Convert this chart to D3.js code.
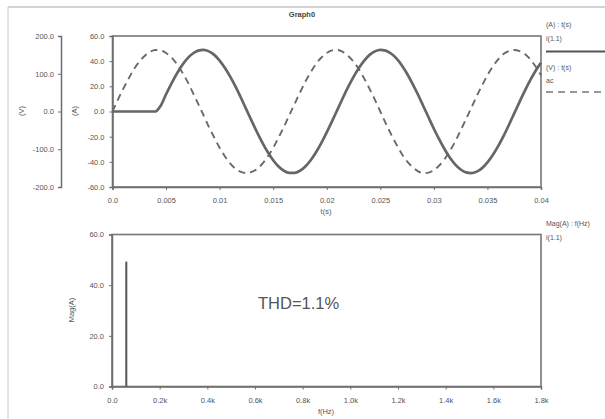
<!DOCTYPE html>
<html><head><meta charset="utf-8">
<script src="https://cdn.jsdelivr.net/npm/d3@7"></script>
<style>
html,body{margin:0;padding:0;background:#fff;}
svg{display:block;font-family:"Liberation Sans",Arial,sans-serif;}
</style></head>
<body>
<svg id="c" width="605" height="419"></svg>
<script>
// ---- data ----
const timeMs = [0,0.5,1,1.5,2,2.5,3,3.5,4,4.5,5,5.5,6,6.5,7,7.5,8,8.5,9,9.5,10,10.5,11,11.5,12,12.5,13,13.5,14,14.5,15,15.5,16,16.5,17,17.5,18,18.5,19,19.5,20,20.5,21,21.5,22,22.5,23,23.5,24,24.5,25,25.5,26,26.5,27,27.5,28,28.5,29,29.5,30,30.5,31,31.5,32,32.5,33,33.5,34,34.5,35,35.5,36,36.5,37,37.5,38,38.5,39,39.5,40];
const voltageV = [0,31,60,87,112,132,147,158,163,162,155,143,126,104,79,50,20,-10,-41,-69,-96,-119,-138,-152,-160,-163,-160,-152,-138,-119,-96,-69,-41,-10,20,50,79,104,126,143,155,162,163,158,147,132,112,87,60,31,0,-31,-60,-87,-112,-132,-147,-158,-163,-162,-155,-143,-126,-104,-79,-50,-20,10,41,69,96,119,138,152,160,163,160,152,138,119,96];
const currentA = [0,0,0,0,0,0,0,0,0,4.6,13.7,22.2,30.0,36.8,42.2,46.1,48.4,49.0,47.8,45.0,40.5,34.6,27.5,19.5,10.7,1.5,-7.7,-16.6,-24.9,-32.4,-38.7,-43.7,-47.1,-48.8,-48.8,-47.1,-43.7,-38.7,-32.4,-24.9,-16.6,-7.7,1.5,10.7,19.5,27.5,34.6,40.5,45.0,47.8,49.0,48.4,46.1,42.2,36.8,30.0,22.2,13.7,4.6,-4.6,-13.7,-22.2,-30.0,-36.8,-42.2,-46.1,-48.4,-49.0,-47.8,-45.0,-40.5,-34.6,-27.5,-19.5,-10.7,-1.5,7.7,16.6,24.9,32.4,38.7];
const spectrumHz = [60];
const spectrumMagA = [49.3];

const timeTicks = [0,0.005,0.01,0.015,0.02,0.025,0.03,0.035,0.04];
const timeTickLabels = ["0.0","0.005","0.01","0.015","0.02","0.025","0.03","0.035","0.04"];
const ampTicks = [60,40,20,0,-20,-40,-60];
const ampTickLabels = ["60.0","40.0","20.0","0.0","-20.0","-40.0","-60.0"];
const voltTicks = [200,100,0,-100,-200];
const voltTickLabels = ["200.0","100.0","0.0","-100.0","-200.0"];
const freqTicks = [0,200,400,600,800,1000,1200,1400,1600,1800];
const freqTickLabels = ["0.0","0.2k","0.4k","0.6k","0.8k","1.0k","1.2k","1.4k","1.6k","1.8k"];
const magTicks = [60,40,20,0];
const magTickLabels = ["60.0","40.0","20.0","0.0"];

// ---- drawing ----
const svg = d3.select("#c");
const axisCol = "#6e6e6e", textCol = "#555";

// outer frame
svg.append("line").attr("x1",8).attr("x2",605).attr("y1",7).attr("y2",7).attr("stroke","#aaa").attr("stroke-width",1.2);
svg.append("line").attr("x1",8).attr("x2",8).attr("y1",7).attr("y2",419).attr("stroke","#c8c8c8").attr("stroke-width",1);

svg.append("text").attr("x",302).attr("y",17).attr("text-anchor","middle")
  .attr("font-size",7.5).attr("font-weight","bold").attr("fill","#444").text("Graph0");

// scales
const xT = d3.scaleLinear().domain([0,0.04]).range([112.5,541]);
const yA = d3.scaleLinear().domain([-60,60]).range([187,36]);
const yV = d3.scaleLinear().domain([-200,200]).range([187,36]);
const xF = d3.scaleLinear().domain([0,1800]).range([112,541]);
const yM = d3.scaleLinear().domain([0,60]).range([386.5,234.5]);

function styleAxis(g, fs){
  g.selectAll("path.domain").attr("stroke",axisCol).attr("stroke-width",1.5);
  g.selectAll(".tick line").attr("stroke",axisCol);
  g.selectAll(".tick text").attr("fill",textCol).attr("font-size",fs).attr("font-family","'Liberation Sans',Arial,sans-serif");
}

// plot frames
function frame(x0,x1,y0,y1){
  svg.append("rect").attr("x",x0).attr("y",y0).attr("width",x1-x0).attr("height",y1-y0)
    .attr("fill","none").attr("stroke","#777").attr("stroke-width",1.6);
}
frame(112.5,541,36,187);
frame(112,541,234.5,386.5);

// top plot axes
const gA = svg.append("g").attr("transform","translate(112.5,0)")
  .call(d3.axisLeft(yA).tickValues(ampTicks).tickSize(3).tickPadding(5)
    .tickFormat((d,i)=>ampTickLabels[i]));
styleAxis(gA,7.5);
const gV = svg.append("g").attr("transform","translate(61,0)")
  .call(d3.axisLeft(yV).tickValues(voltTicks).tickSize(3).tickPadding(4)
    .tickFormat((d,i)=>voltTickLabels[i]));
styleAxis(gV,7.5);
const gT = svg.append("g").attr("transform","translate(0,187)")
  .call(d3.axisBottom(xT).tickValues(timeTicks).tickSize(3).tickPadding(8)
    .tickFormat((d,i)=>timeTickLabels[i]));
styleAxis(gT,7.5);

svg.append("text").attr("transform","translate(24,111) rotate(-90)").attr("text-anchor","middle")
  .attr("font-size",7.5).attr("fill",textCol).text("(V)");
svg.append("text").attr("transform","translate(77,111) rotate(-90)").attr("text-anchor","middle")
  .attr("font-size",7.5).attr("fill",textCol).text("(A)");
svg.append("text").attr("x",326).attr("y",214).attr("text-anchor","middle")
  .attr("font-size",7.5).attr("fill",textCol).text("t(s)");

// series
const vLine = d3.line().x((d,i)=>xT(timeMs[i]/1000)).y(d=>yV(d)).curve(d3.curveMonotoneX);
const iLine = d3.line().x((d,i)=>xT(timeMs[i]/1000)).y(d=>yA(d)).curve(d3.curveMonotoneX);
svg.append("path").datum(voltageV).attr("d",vLine).attr("fill","none")
  .attr("stroke","#6a6a6a").attr("stroke-width",1.9).attr("stroke-dasharray","7,5");
svg.append("path").datum(currentA).attr("d",iLine).attr("fill","none")
  .attr("stroke","#666").attr("stroke-width",2.7).attr("stroke-linejoin","round");

// top legend
const lg = svg.append("g").attr("font-size",7).attr("fill",textCol);
lg.append("text").attr("x",546).attr("y",27).text("(A)  :  t(s)");
lg.append("text").attr("x",546).attr("y",41).text("i(1.1)");
svg.append("line").attr("x1",546).attr("x2",605).attr("y1",51.5).attr("y2",51.5).attr("stroke","#555").attr("stroke-width",2);
lg.append("text").attr("x",546).attr("y",70).text("(V)  :  t(s)");
lg.append("text").attr("x",546).attr("y",83).text("ac");
svg.append("line").attr("x1",546).attr("x2",605).attr("y1",92).attr("y2",92).attr("stroke","#777").attr("stroke-width",1.6).attr("stroke-dasharray","7,5");

// bottom plot axes
const gM = svg.append("g").attr("transform","translate(112,0)")
  .call(d3.axisLeft(yM).tickValues(magTicks).tickSize(3).tickPadding(5)
    .tickFormat((d,i)=>magTickLabels[i]));
styleAxis(gM,7.5);
const gF = svg.append("g").attr("transform","translate(0,386.5)")
  .call(d3.axisBottom(xF).tickValues(freqTicks).tickSize(3).tickPadding(8)
    .tickFormat((d,i)=>freqTickLabels[i]));
styleAxis(gF,7.5);
svg.append("text").attr("transform","translate(74,310) rotate(-90)").attr("text-anchor","middle")
  .attr("font-size",7.5).attr("fill",textCol).text("Mag(A)");
svg.append("text").attr("x",326).attr("y",414).attr("text-anchor","middle")
  .attr("font-size",7.5).attr("fill",textCol).text("f(Hz)");

// spectrum bars
svg.append("g").selectAll("line").data(spectrumHz).join("line")
  .attr("x1",d=>xF(d)).attr("x2",d=>xF(d))
  .attr("y1",yM(0)).attr("y2",(d,i)=>yM(spectrumMagA[i]))
  .attr("stroke","#555").attr("stroke-width",2);

svg.append("text").attr("x",258).attr("y",309).attr("font-size",16.5).attr("fill","#555").text("THD=1.1%");

// bottom legend
lg.append("text").attr("x",546).attr("y",226).text("Mag(A)  :  f(Hz)");
lg.append("text").attr("x",546).attr("y",240).text("i(1.1)");
</script>
</body></html>
